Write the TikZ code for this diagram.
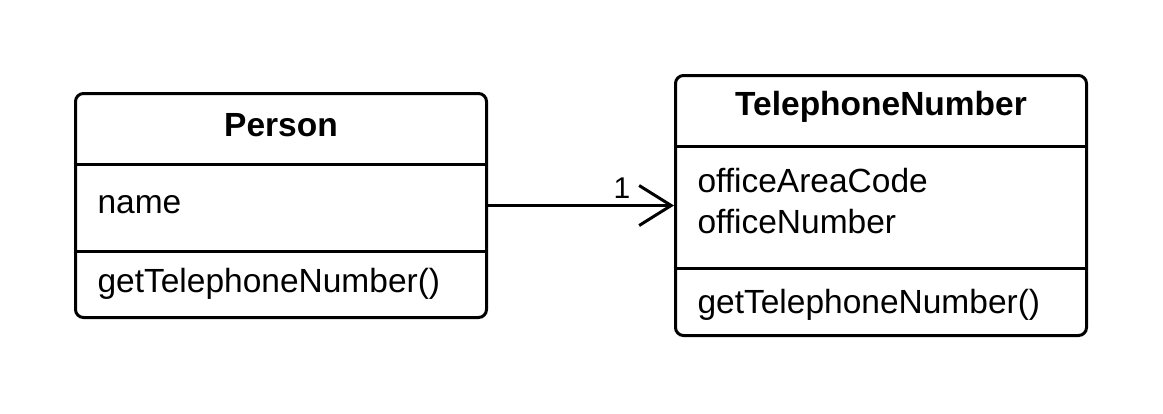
\documentclass[tikz,border=0pt]{standalone}
\usepackage{fontspec}
\setmainfont{Liberation Sans}
\usetikzlibrary{arrows.meta, positioning}
\tikzset{
  every picture/.style={line width=3pt},
  classbox/.style={draw=black, rounded corners=8pt, minimum width=411pt, inner sep=0pt},
  title/.style={font=\fontsize{33.5}{40}\selectfont\bfseries, anchor=base, inner sep=0pt},
  member/.style={font=\fontsize{33.5}{40}\selectfont, anchor=base west, inner sep=0pt},
  mult/.style={font=\fontsize{30}{36}\selectfont, anchor=base, inner sep=0pt},
  assoc/.style={-{Straight Barb[length=32pt, width=40pt]}, draw=black, line width=3pt},
}
\begin{document}
\begin{tikzpicture}[x=1pt, y=-1pt]
  \useasboundingbox (0,0) rectangle (1163,413);
  % person class
  \node[classbox, minimum height=224pt] (person) at (281,205.5) {};
  \node[title] (person title) at (281,136) {Person};
  \draw (person.west |- 0,164) -- (person.east |- 0,164);
  \node[member] (person name) at (96,213) {name};
  \draw (person.west |- 0,251) -- (person.east |- 0,251);
  \node[member] (person op) at (96,292) {getTelephoneNumber()};
  % telephone number class
  \node[classbox, minimum height=260pt] (tel) at (881,205.5) {};
  \node[title] (tel title) at (881,115) {TelephoneNumber};
  \draw (tel.west |- 0,146) -- (tel.east |- 0,146);
  \node[member] (tel area) at (696,192) {officeAreaCode};
  \node[member] (tel number) at (696,233) {officeNumber};
  \draw (tel.west |- 0,268) -- (tel.east |- 0,268);
  \node[member] (tel op) at (696,313) {getTelephoneNumber()};
  % association
  \draw[assoc] (person) -- (tel);
  \node[mult] (one) at (622,198) {1};
\end{tikzpicture}
\end{document}
